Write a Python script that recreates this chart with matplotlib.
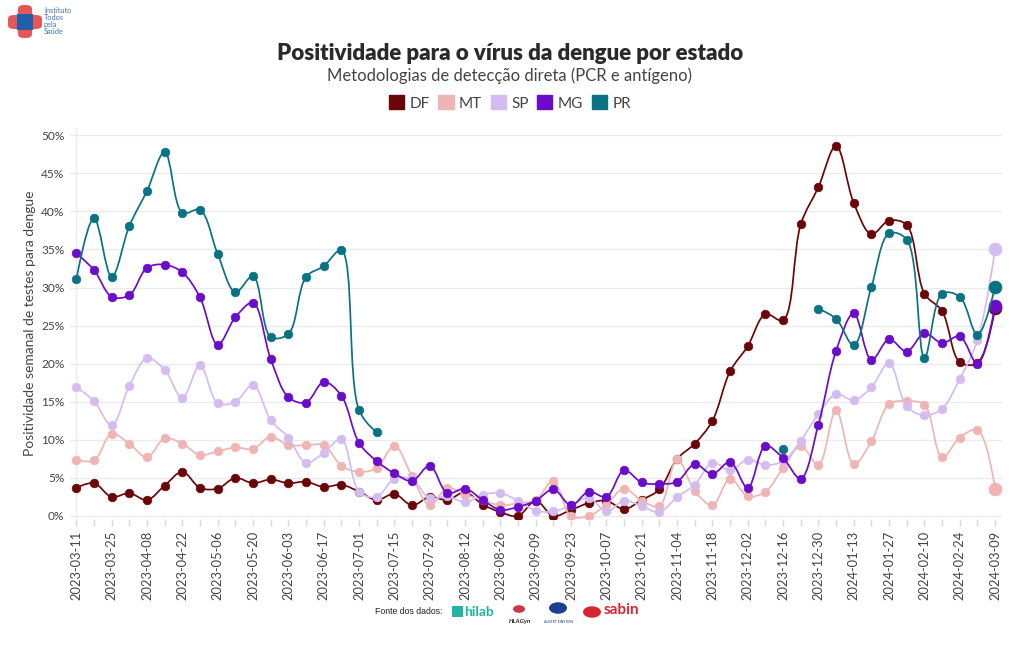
import numpy as np
import pandas as pd
import matplotlib
matplotlib.use("Agg")
import matplotlib.pyplot as plt
import matplotlib.dates as mdates
from matplotlib.path import Path
from matplotlib.patches import PathPatch, Patch, FancyBboxPatch, Circle

plt.rcParams['font.family'] = ['Lato', 'DejaVu Sans']

# ---------------- data ----------------
start_date = "2023-03-11"
n_weeks = 53
nan = np.nan

DF = [3.7, 4.3, 2.5, 3.0, 2.1, 4.0, 5.8, 3.7, 3.6, 5.0,
      4.3, 4.8, 4.3, 4.5, 3.8, 4.1, 3.2, 2.1, 2.9, 1.4,
      2.5, 2.1, 3.1, 1.5, 0.5, 0.0, 2.0, 0.0, 0.8, 1.7,
      2.0, 0.9, 2.1, 3.5, 7.5, 9.5, 12.5, 19.0, 22.3, 26.5,
      25.7, 38.3, 43.2, 48.6, 41.1, 37.0, 38.8, 38.2, 29.2, 26.9,
      20.2, 20.1, 27.3]
MT = [7.4, 7.3, 10.8, 9.5, 7.7, 10.2, 9.5, 8.0, 8.5, 9.0,
      8.8, 10.4, 9.3, 9.3, 9.3, 6.6, 5.8, 6.3, 9.2, 5.2,
      1.4, 3.7, 2.8, 2.1, 1.4, 1.7, 2.1, 4.6, 0.0, 0.0,
      1.5, 3.6, 2.0, 1.3, 7.5, 3.3, 1.4, 4.9, 2.6, 3.2,
      6.3, 9.2, 6.7, 13.9, 6.8, 9.8, 14.7, 15.1, 14.6, 7.7,
      10.3, 11.3, 3.6]
SP = [16.9, 15.1, 11.9, 17.1, 20.7, 19.2, 15.5, 19.8, 14.8, 15.0,
      17.2, 12.6, 10.3, 7.0, 8.3, 10.1, 3.2, 2.5, 4.9, 4.8,
      2.3, 2.6, 1.8, 2.8, 3.0, 2.0, 0.7, 0.6, 1.4, 2.4,
      0.6, 2.0, 1.3, 0.5, 2.5, 4.1, 7.0, 6.0, 7.4, 6.7,
      7.2, 9.9, 13.4, 16.0, 15.2, 16.9, 20.1, 14.4, 13.2, 14.1,
      18.0, 23.1, 35.0]
MG = [34.5, 32.3, 28.8, 29.0, 32.6, 33.0, 32.0, 28.7, 22.5, 26.1,
      28.0, 20.6, 15.6, 14.9, 17.6, 15.8, 9.6, 7.2, 5.6, 4.6,
      6.6, 3.0, 3.6, 2.1, 0.8, 1.2, 2.0, 3.5, 1.4, 3.2,
      2.5, 6.0, 4.4, 4.2, 4.5, 6.8, 5.5, 7.1, 3.7, 9.2,
      7.6, 4.9, 12.0, 21.7, 26.6, 20.5, 23.2, 21.6, 24.0, 22.7,
      23.6, 20.0, 27.6]
PR = [31.1, 39.1, 31.4, 38.1, 42.7, 47.8, 39.8, 40.2, 34.4, 29.4,
      31.5, 23.5, 23.9, 31.4, 32.8, 34.9, 13.9, 11.0] + [nan] * 22 + \
     [8.8, nan,
      27.2, 25.9, 22.4, 30.1, 37.1, 36.3, 20.8, 29.2, 28.8, 23.8, 30.1]

series_names = ["DF", "MT", "SP", "MG", "PR"]
series_values = [DF, MT, SP, MG, PR]
series_colors = ["#6b0608", "#efb5b4", "#d5bcf0", "#6a0cc9", "#0a7283"]

dates = pd.date_range(start_date, periods=n_weeks, freq="7D")
xnum = mdates.date2num(dates.to_pydatetime())

# ---------------- figure ----------------
W, H = 1020, 650
fig = plt.figure(figsize=(W / 100, H / 100), dpi=100)
ax_l, ax_r, ax_t, ax_b = 70, 1002, 128, 518.5
ax = fig.add_axes([ax_l / W, 1 - ax_b / H, (ax_r - ax_l) / W, (ax_b - ax_t) / H])

SX = 17.67 / 7.0   # px per day (for spline shape)
SY = 7.614         # px per percent


def spline_path(xs, ys, smooth=1.0):
    x0 = xs[0]
    pts = np.column_stack([(xs - x0) * SX, ys * SY])
    n = len(pts)
    if n < 3:
        verts = list(pts)
        codes = [Path.MOVETO] + [Path.LINETO] * (n - 1)
    else:
        tang = []
        for i in range(1, n - 1):
            p0, p1, p2 = pts[i - 1], pts[i], pts[i + 1]
            d1 = p0 - p1
            d2 = p2 - p1
            d1a = (d1 @ d1) ** 0.25
            d2a = (d2 @ d2) ** 0.25
            num = (d2a * d2a * d1 - d1a * d1a * d2) * smooth
            den1 = 3 * d2a * (d1a + d2a)
            den2 = 3 * d1a * (d1a + d2a)
            a = p1 + (num / den1 if den1 else 0)
            b = p1 - (num / den2 if den2 else 0)
            tang.append((a, b))
        verts = [pts[0], tang[0][0], pts[1]]
        codes = [Path.MOVETO, Path.CURVE3, Path.CURVE3]
        for i in range(2, n - 1):
            verts += [tang[i - 2][1], tang[i - 1][0], pts[i]]
            codes += [Path.CURVE4] * 3
        verts += [tang[n - 3][1], pts[n - 1]]
        codes += [Path.CURVE3] * 2
    verts = np.array(verts, dtype=float)
    verts[:, 0] = verts[:, 0] / SX + x0
    verts[:, 1] = verts[:, 1] / SY
    return Path(verts, codes)


for k, (name, vals, col) in enumerate(zip(series_names, series_values, series_colors)):
    v = np.array(vals, dtype=float)
    z = 3 + k
    ok = ~np.isnan(v)
    idx = np.where(ok)[0]
    segs = np.split(idx, np.where(np.diff(idx) != 1)[0] + 1)
    for s in segs:
        if len(s) >= 2:
            p = spline_path(xnum[s], v[s])
            ax.add_patch(PathPatch(p, fill=False, edgecolor=col, lw=1.25,
                                   zorder=z, capstyle='round', joinstyle='round'))
    last = idx[-1]
    mk = ok.copy()
    mk[last] = False
    ax.plot(xnum[mk], v[mk], ls='none', marker='o', ms=6.2, color=col,
            mec=col, mew=0.5, zorder=z + 0.5)
    ax.plot([xnum[last]], [v[last]], ls='none', marker='o', ms=9.3, color=col,
            mec=col, mew=0.5, zorder=z + 0.5)

# ---------------- axes styling ----------------
ax.set_xlim(xnum[0] - 0.36 * 7, xnum[-1] + 0.39 * 7)
ax.set_ylim(-0.33, 50.95)
ax.set_yticks(np.arange(0, 51, 5))
ax.set_yticklabels([f"{t}%" for t in range(0, 51, 5)])
ax.yaxis.grid(True, color="#ebebeb", lw=1)
ax.set_axisbelow(True)
ax.axvline(xnum[0], color="#ebebeb", lw=1, zorder=0)
for sp in ax.spines.values():
    sp.set_visible(False)

ax.set_xticks(xnum[::2])
ax.set_xticklabels([d.strftime("%Y-%m-%d") for d in dates[::2]], rotation=90)
ax.set_xticks(xnum[1::2], minor=True)
ax.tick_params(axis='x', which='both', length=5, color="#d8d8d8", width=1,
               labelsize=9.3, labelcolor="#444444", pad=4)
ax.tick_params(axis='y', length=0, labelsize=8.6, labelcolor="#444444", pad=4)
ax.set_ylabel("Positividade semanal de testes para dengue", fontsize=10,
              color="#444444", labelpad=4)

# ---------------- titles & legend ----------------
fig.text(0.5, 1 - 53 / H, "Positividade para o vírus da dengue por estado",
         ha="center", va="center", fontsize=16, fontweight="heavy", color="#2a2a2a")
fig.text(0.5, 1 - 76 / H, "Metodologias de detecção direta (PCR e antígeno)",
         ha="center", va="center", fontsize=12, color="#444444")
handles = [Patch(facecolor=c, edgecolor=c, label=n) for n, c in zip(series_names, series_colors)]
fig.legend(handles=handles, loc="center", bbox_to_anchor=(0.5, 1 - 103 / H), ncol=5,
           frameon=False, fontsize=11, handlelength=1.0, handleheight=1.0,
           handletextpad=0.35, columnspacing=0.55, labelcolor="#444444")

# ---------------- logos (approximations) ----------------
def fig_rect(x, y, w, h, color, r=0.0):
    fig.patches.append(FancyBboxPatch((x / W, 1 - (y + h) / H), w / W, h / H,
                                      boxstyle=f"round,pad=0,rounding_size={r}",
                                      transform=fig.transFigure, facecolor=color,
                                      edgecolor='none'))

fig_rect(8, 15, 34, 14, "#e3575a", 0.006)
fig_rect(18, 5, 14, 33, "#e3575a", 0.006)
fig_rect(17, 14, 16, 16, "#1f5ea9")
fig.text(44 / W, 1 - 21 / H, "Instituto\nTodos\npela\nSaúde", ha="left", va="center",
         fontsize=5.3, color="#3f72b5", linespacing=0.95)

fig.text(443 / W, 1 - 612 / H, "Fonte dos dados:", ha="right", va="center",
         fontsize=6.3, color="#222222", family=["Liberation Sans", "DejaVu Sans"])
fig_rect(452, 606, 11, 11, "#20b5a5")
fig.text(464 / W, 1 - 612 / H, "hilab", ha="left", va="center", fontsize=10,
         fontweight="bold", color="#20b5a5")
fig.text(520 / W, 1 - 622 / H, "HLAGyn", ha="center", va="center", fontsize=4.5,
         fontweight="bold", style="italic", color="#222222")
fig.patches.append(Circle((519 / W, 1 - 609 / H), 6 / W, transform=fig.transFigure,
                          facecolor="#c8394a", edgecolor="none"))
fig.patches.append(Circle((558 / W, 1 - 608 / H), 9 / W, transform=fig.transFigure,
                          facecolor="#1d3f8f", edgecolor="none"))
fig.text(558 / W, 1 - 622 / H, "ALBERT EINSTEIN", ha="center", va="center",
         fontsize=2.5, color="#1d3f8f")
fig.patches.append(Circle((592 / W, 1 - 612 / H), 9 / W, transform=fig.transFigure,
                          facecolor="#d7262e", edgecolor="none"))
fig.text(604 / W, 1 - 610 / H, "sabin", ha="left", va="center", fontsize=11,
         fontweight="bold", color="#d7262e")

fig.savefig("out.png", dpi=100, facecolor="white")
